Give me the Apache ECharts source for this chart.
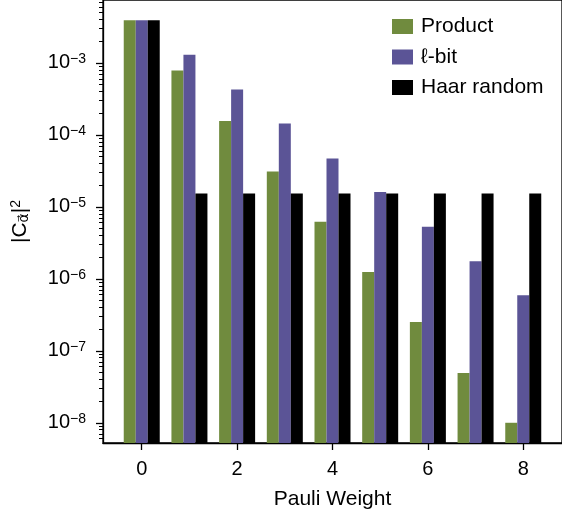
<!DOCTYPE html>
<html><head><meta charset="utf-8">
<script src="https://cdn.jsdelivr.net/npm/echarts@6/dist/echarts.min.js"></script>
<style>html,body{margin:0;padding:0;background:#fff}#c{width:562px;height:516px}</style>
</head><body><div id="c"></div>
<script>
// ---- data ----
const pauliWeights = [0, 1, 2, 3, 4, 5, 6, 7, 8];
const productValues = [3.9e-3, 7.8e-4, 1.55e-4, 3.1e-5, 6.2e-6, 1.24e-6, 2.5e-7, 4.9e-8, 1.0e-8];
const lbitValues    = [3.9e-3, 1.29e-3, 4.25e-4, 1.43e-4, 4.7e-5, 1.6e-5, 5.3e-6, 1.75e-6, 5.9e-7];
const haarValues    = [3.9e-3, 1.53e-5, 1.53e-5, 1.53e-5, 1.53e-5, 1.53e-5, 1.53e-5, 1.53e-5, 1.53e-5];
const seriesNames = ['Product', 'ℓ-bit', 'Haar random'];
const xTickValues = [0, 2, 4, 6, 8];
const yMajorTicks = [1e-8, 1e-7, 1e-6, 1e-5, 1e-4, 1e-3];
const xRange = [-0.8125, 8.8125];
const yRangeExp = [-8.281, -2.128];

// ---- build ----
const FONT = '"Liberation Sans", Arial, Helvetica, sans-serif';
const colors = ['#708b3e', '#5b5496', '#000000'];
const yMin = Math.pow(10, yRangeExp[0]);
const yMax = Math.pow(10, yRangeExp[1]);
const yMinorTicks = [];
for (let e = -9; e <= -2; e++) {
  for (let m = 2; m <= 9; m++) {
    const v = m * Math.pow(10, e);
    if (v > yMin && v < yMax) yMinorTicks.push(v);
  }
}
function pairs(vals) { return pauliWeights.map((w, i) => [w, vals[i]]); }
const allVals = [productValues, lbitValues, haarValues];

const chart = echarts.init(document.getElementById('c'), null, {renderer: 'canvas'});
const option = {
  animation: false,
  textStyle: {fontFamily: FONT},
  grid: {left: 103, right: -3, top: 0, bottom: 73, show: true, borderColor: '#000', borderWidth: 1.3, backgroundColor: 'transparent'},
  legend: {
    orient: 'vertical', left: 392, top: 16, padding: 0,
    itemWidth: 21, itemHeight: 15, itemGap: 9.5,
    icon: 'rect',
    textStyle: {fontSize: 21, color: '#000', fontFamily: FONT, lineHeight: 21, padding: [0, 0, 0, 3]},
    data: seriesNames
  },
  xAxis: {
    type: 'value', min: xRange[0], max: xRange[1],
    name: 'Pauli Weight', nameLocation: 'middle', nameGap: 46,
    nameTextStyle: {fontSize: 21, color: '#000', fontFamily: FONT},
    axisLine: {show: true, onZero: false, lineStyle: {color: '#000', width: 1.3}},
    axisTick: {show: true, length: 7, customValues: xTickValues, lineStyle: {color: '#000', width: 1.3}},
    axisLabel: {customValues: xTickValues, fontSize: 20, color: '#000', margin: 16, fontFamily: FONT},
    splitLine: {show: false}
  },
  yAxis: [{
    type: 'log', logBase: 10, min: yMin, max: yMax, startValue: yMin,
    name: '|C{sub|α⃗}|{sup|2}', nameLocation: 'middle', nameGap: 72, nameRotate: 90,
    nameTextStyle: {fontSize: 21, color: '#000', fontFamily: FONT,
      rich: {sub: {fontSize: 14, verticalAlign: 'bottom', fontFamily: '"DejaVu Sans", sans-serif', padding: [6, 0, 0, 0]},
             sup: {fontSize: 14, verticalAlign: 'top', fontFamily: FONT, padding: [0, 0, 8, 0]}}},
    axisLine: {show: true, onZero: false, lineStyle: {color: '#000', width: 1.3}},
    axisTick: {show: true, length: 7, customValues: yMajorTicks, lineStyle: {color: '#000', width: 1.3}},
    axisLabel: {
      customValues: yMajorTicks, margin: 17, color: '#000', fontSize: 20, fontFamily: FONT,
      formatter: function (v) { const e = Math.round(Math.log10(v)); return '10{sup|−' + (-e) + '}'; },
      rich: {sup: {fontSize: 14, verticalAlign: 'top', fontFamily: FONT, color: '#000', padding: [0, 0, 8, 0]}}
    },
    splitLine: {show: false}
  }, {
    type: 'log', logBase: 10, min: yMin, max: yMax, position: 'left', offset: 0,
    axisLine: {show: false, onZero: false},
    axisTick: {show: true, length: 4, customValues: yMinorTicks, lineStyle: {color: '#000', width: 1}},
    axisLabel: {show: false},
    splitLine: {show: false}
  }],
  series: allVals.map((vals, i) => ({
    name: seriesNames[i], type: 'bar', data: pairs(vals), yAxisIndex: 0,
    barWidth: 12, barGap: '0%', itemStyle: {color: colors[i]}
  }))
};
chart.setOption(option);
</script></body></html>
